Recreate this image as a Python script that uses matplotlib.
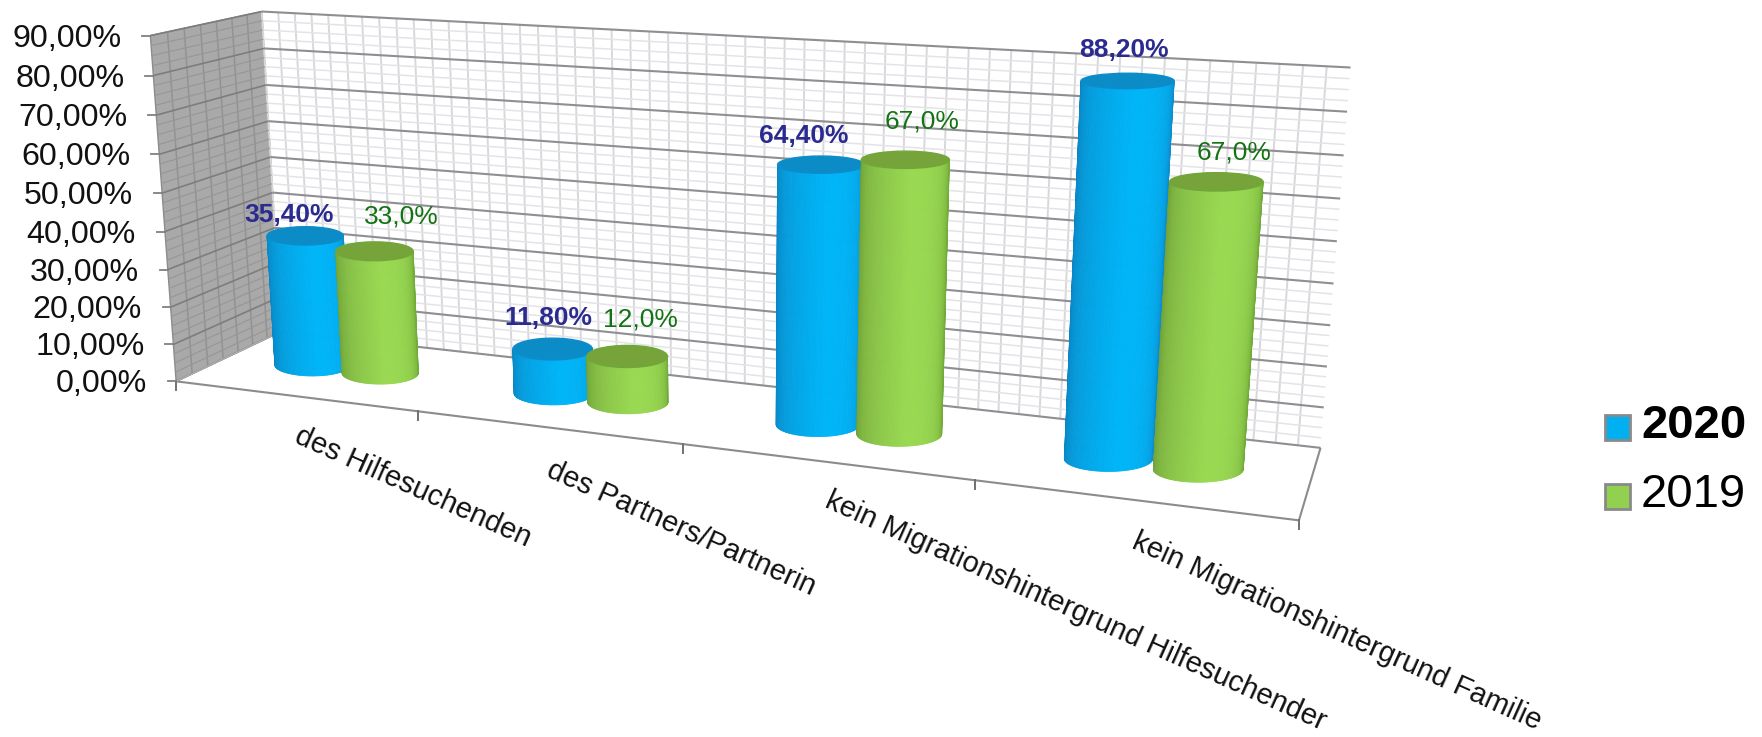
import numpy as np
import matplotlib
matplotlib.use("Agg")
import matplotlib.pyplot as plt
from matplotlib.collections import PolyCollection
from matplotlib.patches import Ellipse, Polygon, Rectangle

plt.rcParams['font.family'] = ['Liberation Sans', 'DejaVu Sans']

categories = ["des Hilfesuchenden", "des Partners/Partnerin",
              "kein Migrationshintergrund Hilfesuchender",
              "kein Migrationshintergrund Familie"]
values_2020 = [35.4, 11.8, 64.4, 88.2]
values_2019 = [33.0, 12.0, 67.0, 67.0]
labels_2020 = ["35,40%", "11,80%", "64,40%", "88,20%"]
labels_2019 = ["33,0%", "12,0%", "67,0%", "67,0%"]
y_ticks = [0, 10, 20, 30, 40, 50, 60, 70, 80, 90]
y_labels = ["0,00%", "10,00%", "20,00%", "30,00%", "40,00%",
            "50,00%", "60,00%", "70,00%", "80,00%", "90,00%"]

# label offsets from the centre of the cylinder top, pixels
off_2020 = [(-16, -21), (-4, -31), (-17, -29), (-4, -31)]
off_2019 = [(27, -35), (13, -37), (17, -38), (18, -29)]
cat_anchor = [(302, 422), (554, 456), (832, 486), (1139, 527)]

# box corners on the picture, used to calibrate the perspective
# (front top corner listed three times so the fit holds it better)
box_3d = [(0, 0, 0), (4, 0, 0), (0, 1, 0), (4, 1, 0), (0, 0, 90), (0, 1, 90), (4, 1, 90), (0, 0, 90), (0, 0, 90)]
box_px = [(180, 378), (1299, 523), (277, 335), (1321, 445), (149, 36), (266, 10), (1350, 68), (149, 36), (149, 36)]

rows, rhs = [], []
for (a, b, c), (u, v) in zip(box_3d, box_px):
    rows.append([a, b, c, 1, 0, 0, 0, 0, -u * a, -u * b, -u * c])
    rows.append([0, 0, 0, 0, a, b, c, 1, -v * a, -v * b, -v * c])
    rhs += [u, v]
P = np.linalg.lstsq(np.array(rows, float), np.array(rhs, float), rcond=None)[0]
P = np.append(P, 1).reshape(3, 4)


def proj(x, d, v):
    x, d, v = np.broadcast_arrays(np.asarray(x, float), np.asarray(d, float), np.asarray(v, float))
    pts = np.stack([x, d, v, np.ones_like(x)])
    u = np.tensordot(P, pts, axes=1)
    return u[0] / u[2], u[1] / u[2]


def line(ax, a, b, color, lw, z=1):
    xs, ys = proj([a[0], b[0]], [a[1], b[1]], [a[2], b[2]])
    ax.plot(xs, ys, color=color, lw=lw, zorder=z, solid_capstyle='butt')


def shade(t, dark, mid, edge):
    # t is 0..1 across the cylinder, brightest a bit right of the middle
    dark, mid, edge = map(np.array, (dark, mid, edge))
    if t < 0.55:
        s = (t / 0.55) ** 0.6
        return dark + (mid - dark) * s
    s = ((t - 0.55) / 0.45) ** 2.5
    return mid + (edge - mid) * s


def ring(xc, dc, v, rx):
    # screen aligned ellipse of the cylinder at height v
    px, py = proj(xc, dc, v)
    lx, _ = proj(xc - rx, dc, v)
    rx_px, _ = proj(xc + rx, dc, v)
    a = (rx_px - lx) / 2
    return px, py, a, a * (0.29 - 0.0014 * v)


def cylinder(ax, xc, value, dark, mid, edge, top, z):
    rx, dc = 0.165 - 0.006 * xc, 0.5
    bx0, by0, ba, bb = ring(xc, dc, 0, rx)
    tx0, ty0, ta, tb = ring(xc, dc, value, rx)
    th = np.linspace(np.pi, 0, 61)
    bx, by = bx0 + ba * np.cos(th), by0 + bb * np.sin(th)
    tx, ty = tx0 + ta * np.cos(th), ty0 + tb * np.sin(th)
    polys, cols = [], []
    for i in range(len(th) - 1):
        polys.append([(bx[i], by[i]), (bx[i + 1], by[i + 1]), (tx[i + 1], ty[i + 1]), (tx[i], ty[i])])
        cols.append(shade((i + 0.5) / (len(th) - 1), dark, mid, edge))
    ax.add_collection(PolyCollection(polys, facecolors=cols, edgecolors=cols, linewidths=0.6, zorder=z))
    ax.add_patch(Ellipse((tx0, ty0), 2 * ta, 2 * tb, facecolor=top, edgecolor=edge, lw=1.0, zorder=z + 0.1))
    return tx0, ty0


fig = plt.figure(figsize=(17.62, 7.37), dpi=100)
ax = fig.add_axes([0, 0, 1, 1])
ax.set_xlim(0, 1762)
ax.set_ylim(737, 0)
ax.axis('off')

# left wall
lx, ly = proj([0, 0, 0, 0], [0, 1, 1, 0], [0, 0, 90, 90])
ax.add_patch(Polygon(np.column_stack([lx, ly]), closed=True, facecolor='#a9a9a9', edgecolor='#8c8c8c', lw=1, zorder=1))
for d in np.arange(1, 7) / 7:
    line(ax, (0, d, 0), (0, d, 90), '#929292', 1.1, 1.1)
for v in np.arange(0, 90.1, 2.5):
    line(ax, (0, 0, v), (0, 1, v), '#7d7d7d' if v % 10 == 0 else '#969696', 1.2 if v % 10 == 0 else 0.8, 1.1)

# back wall
for x in np.arange(0, 3.99, 4 / 55):
    line(ax, (x, 1, 0), (x, 1, 90), '#d8d8dc', 1.4, 1)
for v in np.arange(0, 90.1, 2.5):
    if v % 10:
        line(ax, (0, 1, v), (4, 1, v), '#e4e4e8', 1.1, 1)
for v in y_ticks:
    line(ax, (0, 1, v), (4, 1, v), '#8e8e93', 1.5, 1.2)

# floor edges and ticks
line(ax, (0, 0, 0), (4, 0, 0), '#8c8c8c', 1.5, 1.3)
line(ax, (4, 0, 0), (4, 1, 0), '#8c8c8c', 1.5, 1.3)
line(ax, (0, 0, 0), (0, 1, 0), '#b0b0b0', 1.0, 1.3)
for i in range(5):
    px, py = proj(i, 0, 0)
    ax.plot([px, px], [py, py + 9], color='#707070', lw=1.4, zorder=1.3)

# value axis
for v, lab in zip(y_ticks, y_labels):
    px, py = proj(0, 0, v)
    ax.plot([px - 8, px], [py, py], color='#808080', lw=1.3, zorder=1.3)
    ax.text(px - 29, py + 3, lab, ha='right', va='center', fontsize=23.2, color='#111111')

# cylinders, left to right is also back to front here
blue = dict(dark=(0.05, 0.48, 0.72), mid=(0.0, 0.71, 0.97), edge=(0.05, 0.55, 0.80), top='#0b8cc6')
green = dict(dark=(0.40, 0.58, 0.20), mid=(0.60, 0.85, 0.32), edge=(0.44, 0.66, 0.22), top='#76a33a')
for i in range(len(categories)):
    bx, by = cylinder(ax, i + 0.36, values_2020[i], z=3 + i, **blue)
    gx, gy = cylinder(ax, i + 0.65, values_2019[i], z=3.5 + i, **green)
    ax.text(bx + off_2020[i][0], by + off_2020[i][1], labels_2020[i], ha='center', va='center',
            fontsize=19, fontweight='bold', color='#2b2b8f', zorder=10)
    ax.text(gx + off_2019[i][0], gy + off_2019[i][1], labels_2019[i], ha='center', va='center',
            fontsize=19, color='#137313', zorder=10)

# category labels
for lab, (cx, cy) in zip(categories, cat_anchor):
    ax.text(cx, cy, lab, rotation=-24.2, rotation_mode='anchor', ha='left', va='top',
            fontsize=21, color='#111111', zorder=10)

# legend
ax.add_patch(Rectangle((1605, 415), 25, 25, facecolor='#00b0f0', edgecolor='#8a8a8a', lw=2, zorder=10))
ax.add_patch(Rectangle((1605, 484), 25, 25, facecolor='#92d050', edgecolor='#8a8a8a', lw=2, zorder=10))
ax.text(1641, 426, "2020", fontsize=34, fontweight='bold', va='center', color='black')
ax.text(1641, 495, "2019", fontsize=34, va='center', color='black')

fig.savefig("out.png", dpi=100)
